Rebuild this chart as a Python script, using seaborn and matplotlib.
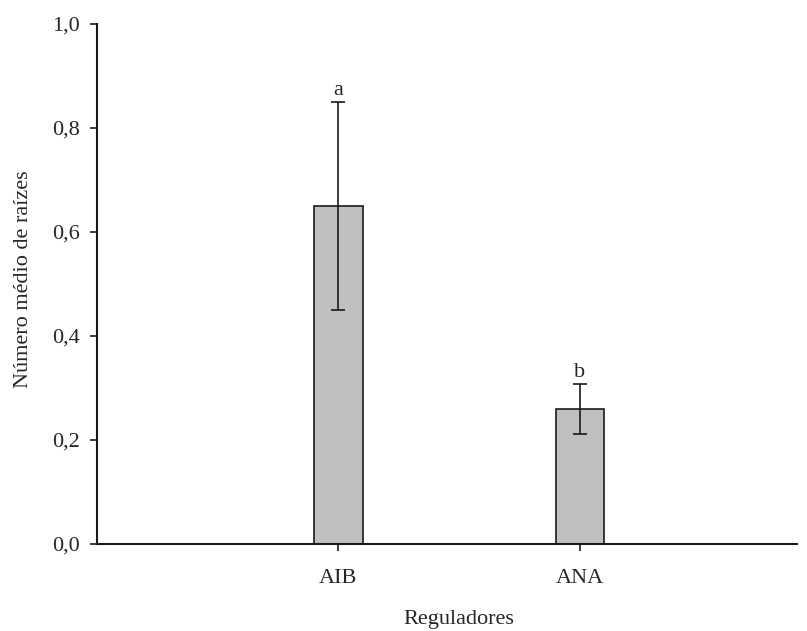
import pandas as pd
import matplotlib
matplotlib.use('Agg')
import matplotlib.pyplot as plt
import seaborn as sns
from matplotlib.ticker import FuncFormatter

reguladores = ['AIB', 'ANA']
medias = [0.65, 0.26]
erros = [0.20, 0.048]
letras = ['a', 'b']

df = pd.DataFrame({'Reguladores': reguladores, 'media': medias})

sns.set_style('ticks')
plt.rcParams['font.family'] = ['Liberation Serif', 'DejaVu Serif']

fig = plt.figure(figsize=(8.07, 6.31), dpi=100)
ax = fig.add_axes([0.1202, 0.138, 0.8674, 0.824])

sns.barplot(x='Reguladores', y='media', data=df, color='#c0c0c0', width=0.2,
            edgecolor='#1a1a1a', linewidth=1.2, errorbar=None, saturation=1, ax=ax)
ax.errorbar(range(len(medias)), medias, yerr=erros, fmt='none', ecolor='#1a1a1a',
            elinewidth=1.2, capsize=5, capthick=1.2)
for i, (m, e, l) in enumerate(zip(medias, erros, letras)):
    ax.text(i, m + e + 0.003, l, ha='center', va='bottom', fontsize=16)

ax.set_xlim(-1.0, 1.9)
ax.set_ylim(0, 1.0)
ax.set_yticks([0, 0.2, 0.4, 0.6, 0.8, 1.0])
ax.yaxis.set_major_formatter(FuncFormatter(lambda v, p: f'{v:.1f}'.replace('.', ',')))
ax.tick_params(axis='both', labelsize=16, width=1.2, color='#1a1a1a')
ax.tick_params(axis='y', length=5, pad=7)
ax.tick_params(axis='x', length=5, pad=13)
for s in ['left', 'bottom']:
    ax.spines[s].set_linewidth(1.5)
    ax.spines[s].set_color('#1a1a1a')
sns.despine(ax=ax)
ax.set_xlabel('Reguladores', fontsize=16, labelpad=16)
ax.xaxis.label.set_x(0.517)
ax.set_ylabel('Número médio de raízes', fontsize=16, labelpad=14)
ax.yaxis.label.set_y(0.51)

fig.savefig('out.png', dpi=100)
